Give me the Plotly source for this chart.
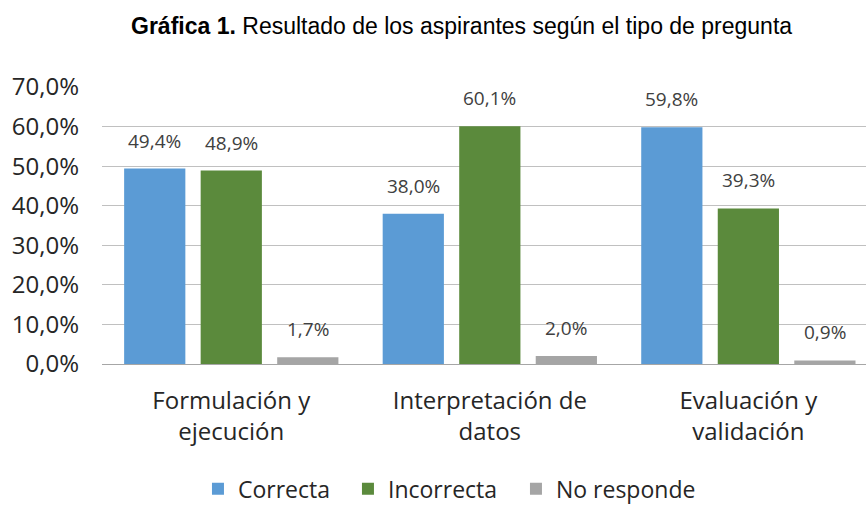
import plotly.graph_objects as go

categories = ["Formulación y<br>ejecución", "Interpretación de<br>datos", "Evaluación y<br>validación"]
series_names = ["Correcta", "Incorrecta", "No responde"]
correcta = [49.4, 38.0, 59.8]
incorrecta = [48.9, 60.1, 39.3]
no_responde = [1.7, 2.0, 0.9]
y_tick_vals = [0, 10, 20, 30, 40, 50, 60, 70]
y_tick_text = ["0,0%", "10,0%", "20,0%", "30,0%", "40,0%", "50,0%", "60,0%", "70,0%"]

colors = ["#5B9BD5", "#5B8A3C", "#A5A5A5"]
series = [correcta, incorrecta, no_responde]
FONT = "Open Sans, Noto Sans, sans-serif"
BARGAP = 0.112
legend_ids = ["legend", "legend2", "legend3"]
legend_x = [0.2286, 0.4018, 0.5958]

def fmt(v):
    return f"{v:.1f}".replace(".", ",") + "%"

fig = go.Figure()
for name, vals, col, lg in zip(series_names, series, colors, legend_ids):
    fig.add_trace(go.Bar(
        x=categories, y=vals, name=name, legend=lg,
        marker=dict(color=col, line=dict(width=0)),
    ))

# value labels above each bar, placed via the category axis positions
slot = (1 - BARGAP) / len(series)
for k, vals in enumerate(series):
    for i, v in enumerate(vals):
        fig.add_annotation(
            x=i + (k - (len(series) - 1) / 2) * slot, y=v, xref="x", yref="y",
            text=fmt(v), showarrow=False, yanchor="bottom", yshift=13,
            font=dict(family=FONT, size=19, color="#404040"),
        )

legend_style = dict(
    orientation="h", xref="container", xanchor="left",
    y=0.034, yref="container", yanchor="middle",
    font=dict(family=FONT, size=23, color="#262626"),
    bgcolor="rgba(0,0,0,0)",
)

fig.update_layout(
    width=866, height=506,
    margin=dict(l=102, r=0, t=87, b=142),
    paper_bgcolor="white", plot_bgcolor="white",
    barmode="group", bargap=BARGAP, bargroupgap=0.2,
    title=dict(
        text="<b>Gráfica 1.</b> Resultado de los aspirantes según el tipo de pregunta",
        x=0.533, xanchor="center", xref="container", y=0.949, yanchor="middle",
        font=dict(family="Liberation Sans, Arial, sans-serif", size=23, color="black"),
    ),
    font=dict(family=FONT, color="#404040"),
    showlegend=True,
    legend=dict(x=legend_x[0], **legend_style),
    legend2=dict(x=legend_x[1], **legend_style),
    legend3=dict(x=legend_x[2], **legend_style),
)
fig.update_xaxes(
    range=[-0.5, 2.455], showgrid=False, showline=False, ticks="",
    tickfont=dict(family=FONT, size=24, color="#262626"),
    ticklabelstandoff=20,
)
fig.update_yaxes(
    range=[0, 70], tickvals=y_tick_vals, ticktext=y_tick_text,
    showgrid=True, gridcolor="#C0C0C0", gridwidth=1,
    zeroline=True, zerolinecolor="#A6A6A6", zerolinewidth=1,
    showline=False, ticks="",
    tickfont=dict(family=FONT, size=24, color="#262626"),
    ticklabelstandoff=22,
)

fig.write_html("out.html", config={"displayModeBar": False},
               post_script="document.body.style.margin='0';")
